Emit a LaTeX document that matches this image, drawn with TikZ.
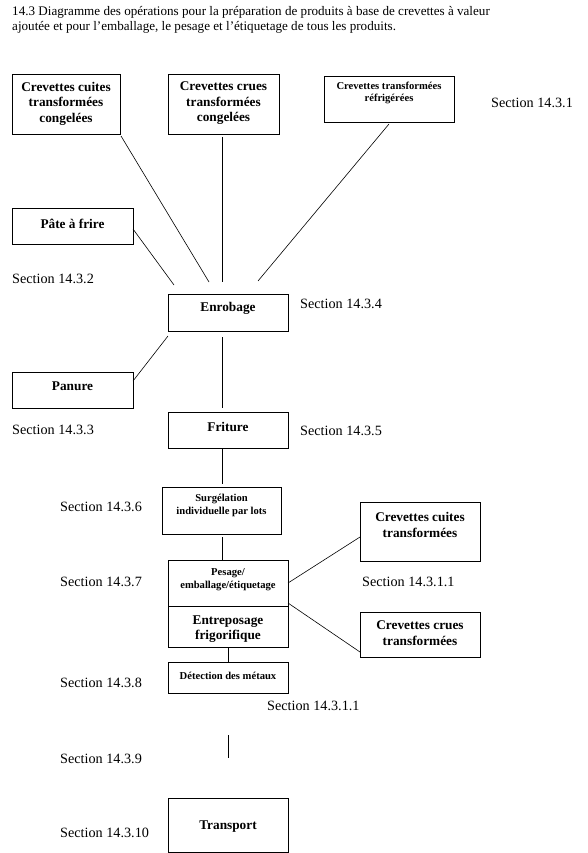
\documentclass[tikz,border=0pt]{standalone}
\usepackage{fontspec}
\setmainfont{Liberation Serif}
\begin{document}
\begin{tikzpicture}[x=1pt,y=-1pt,
  box/.style={draw,line width=0.9pt,inner sep=0pt,anchor=north west},
  btxt/.style={font=\fontsize{13.3}{15.5}\selectfont\bfseries,align=center,inner sep=0pt},
  stxt/.style={font=\fontsize{10.6}{12.5}\selectfont\bfseries,align=center,inner sep=0pt},
  sec/.style={font=\fontsize{14.2}{16}\selectfont,anchor=west,inner sep=0pt},
  conn/.style={line width=0.6pt}]
\useasboundingbox (0,0) rectangle (588,853);
% title
\node[anchor=base west,inner sep=0pt,font=\fontsize{13.1}{15}\selectfont] (t1) at (12,15.5) {14.3 Diagramme des opérations pour la préparation de produits à base de crevettes à valeur};
\node[anchor=base west,inner sep=0pt,font=\fontsize{13.1}{15}\selectfont] (t2) at (12,31) {ajoutée et pour l’emballage, le pesage et l’étiquetage de tous les produits.};
% boxes
\node[box,minimum width=108pt,minimum height=60pt] (b1) at (12,74) {};
\node[btxt] (b1t) at (66,103.5) {Crevettes cuites\\transformées\\congelées};
\node[box,minimum width=111pt,minimum height=60pt] (b2) at (168,74) {};
\node[btxt] (b2t) at (223.5,103.5) {Crevettes crues\\transformées\\congelées};
\node[box,minimum width=130pt,minimum height=46pt] (b3) at (324,76) {};
\node[stxt] (b3t) at (389,93) {Crevettes transformées\\réfrigérées};
\node[box,minimum width=121pt,minimum height=36pt] (pate) at (12,208) {};
\node[btxt] (patet) at (72.5,223.5) {Pâte à frire};
\node[box,minimum width=120pt,minimum height=37pt] (enr) at (168,294) {};
\node[btxt] (enrt) at (228,308.5) {Enrobage};
\node[box,minimum width=121pt,minimum height=36pt] (pan) at (12,372) {};
\node[btxt] (pant) at (72.5,386.5) {Panure};
\node[box,minimum width=120pt,minimum height=36pt] (fri) at (168,412) {};
\node[btxt] (frit) at (228,426.5) {Friture};
\node[box,minimum width=119pt,minimum height=47pt] (surg) at (162,487) {};
\node[stxt] (surgt) at (221.5,505.5) {Surgélation\\individuelle par lots};
\node[box,minimum width=120pt,minimum height=46pt] (pes) at (168,560) {};
\node[stxt] (pest) at (228,579.5) {Pesage/\\emballage/étiquetage};
\node[box,minimum width=120pt,minimum height=41pt] (ent) at (168,606) {};
\node[btxt] (entt) at (228,629) {Entreposage\\frigorifique};
\node[box,minimum width=120pt,minimum height=31pt] (det) at (168,662) {};
\node[stxt] (dett) at (228,676) {Détection des métaux};
\node[box,minimum width=120pt,minimum height=59pt] (cui) at (360,502) {};
\node[btxt] (cuit) at (420,525) {Crevettes cuites\\transformées};
\node[box,minimum width=120pt,minimum height=45pt] (cru) at (360,612) {};
\node[btxt] (crut) at (420,633) {Crevettes crues\\transformées};
\node[box,minimum width=120pt,minimum height=54pt] (tra) at (168,798) {};
\node[btxt] (trat) at (228,826.5) {Transport};
% section labels
\node[sec] (s1) at (491,103) {Section 14.3.1};
\node[sec] (s2) at (12,279) {Section 14.3.2};
\node[sec] (s3) at (12,430) {Section 14.3.3};
\node[sec] (s4) at (300,304) {Section 14.3.4};
\node[sec] (s5) at (300,431) {Section 14.3.5};
\node[sec] (s6) at (60,507) {Section 14.3.6};
\node[sec] (s7) at (60,582) {Section 14.3.7};
\node[sec] (s11a) at (362,582) {Section 14.3.1.1};
\node[sec] (s8) at (60,683) {Section 14.3.8};
\node[sec] (s11b) at (267,706) {Section 14.3.1.1};
\node[sec] (s9) at (60,759) {Section 14.3.9};
\node[sec] (s10) at (60,833) {Section 14.3.10};
% free ends
\coordinate (a1) at (121,136);
\coordinate (e1) at (209,282);
\coordinate (a2) at (222,137);
\coordinate (e2) at (222,282);
\coordinate (a3) at (389,124);
\coordinate (e3) at (258,281);
\coordinate (a4) at (133,229);
\coordinate (e4) at (174,285);
\coordinate (a5) at (168,336);
\coordinate (e5) at (133,381);
\coordinate (a6) at (222,337);
\coordinate (e6) at (222,408);
\coordinate (a7) at (222,448);
\coordinate (e7) at (222,484);
\coordinate (a8) at (222,537);
\coordinate (a10) at (288,583);
\coordinate (e10) at (360,537);
\coordinate (a11) at (288,603);
\coordinate (e11) at (360,652);
\coordinate (a12) at (228,735);
\coordinate (e12) at (228,758);
% connectors
\draw[conn] (a1) -- (e1);
\draw[conn] (a2) -- (e2);
\draw[conn] (a3) -- (e3);
\draw[conn] (a4) -- (e4);
\draw[conn] (a5) -- (e5);
\draw[conn] (a6) -- (e6);
\draw[conn] (a7) -- (e7);
\draw[conn] (a8) -- (pes.north -| a8);
\draw[conn] (ent.south) -- (det.north);
\draw[conn] (a10) -- (e10);
\draw[conn] (a11) -- (e11);
\draw[conn] (a12) -- (e12);
\end{tikzpicture}
\end{document}
